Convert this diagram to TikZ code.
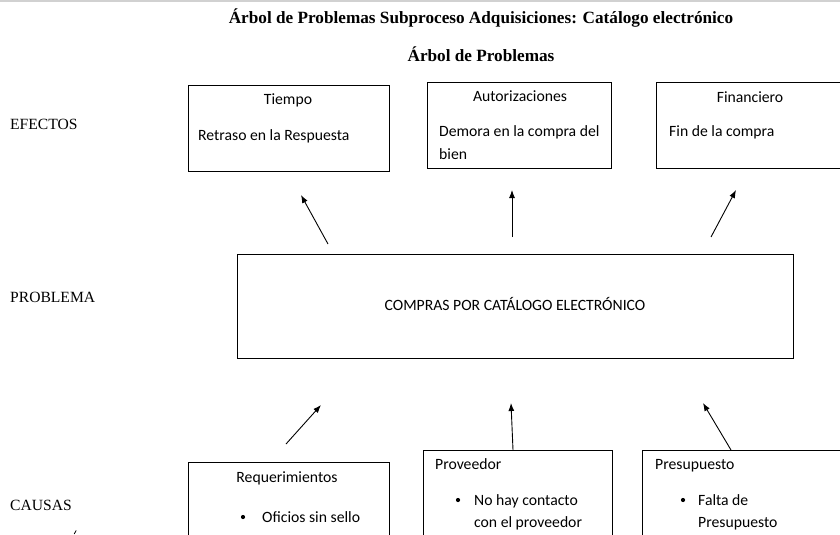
\documentclass[tikz,border=0pt]{standalone}
\usepackage{fontspec}
\setmainfont{Liberation Serif}
\newfontfamily\bodyfont{Carlito}
\usetikzlibrary{arrows.meta}

\begin{document}
\begin{tikzpicture}[x=1pt,y=-1pt,
  framebox/.style={draw=black,line width=0.9pt,rectangle,inner sep=0pt,anchor=north west},
  boxtext/.style={font=\bodyfont\fontsize{15.7}{18}\selectfont,inner sep=0pt,anchor=base west},
  boxhead/.style={font=\bodyfont\fontsize{15.7}{18}\selectfont,inner sep=0pt,anchor=base},
  sidelabel/.style={font=\fontsize{15.6}{18}\selectfont,inner sep=0pt,anchor=base west},
  titletext/.style={font=\bfseries\fontsize{17.2}{20}\selectfont,inner sep=0pt,anchor=base},
  uparrow/.style={draw=black,line width=0.9pt,-{Latex[length=8pt,width=6pt]}},
  bulletdot/.style={circle,fill=black,inner sep=0pt,minimum size=4.2pt}]

\useasboundingbox (0,0) rectangle (840,535);
\clip (0,0) rectangle (840,535);
\fill[white] (0,0) rectangle (840,535);
\fill[black!18] (0,0) rectangle (840,2);

% Headings
\node[titletext] (title) at (481,24) {Árbol de Problemas Subproceso Adquisiciones: Catálogo electrónico};
\node[titletext] (subtitle) at (481,61) {Árbol de Problemas};

% Row labels
\node[sidelabel] (lefectos) at (10,129) {EFECTOS};
\node[sidelabel] (lproblema) at (10,302) {PROBLEMA};
\node[sidelabel] (lcausas) at (10,510) {CAUSAS};
% accent stroke of the next label, which runs off the page
\draw[line width=0.8pt] (74.2,534) -- (76.2,530.5);

% Effects
\node[framebox,minimum width=201pt,minimum height=86pt] (tiempo) at (188,85) {};
\node[boxhead] (tiempoh) at (288,104) {Tiempo};
\node[boxtext] (tiempot) at (198,140) {Retraso en la Respuesta};

\node[framebox,minimum width=184pt,minimum height=86pt] (autor) at (427,82) {};
\node[boxhead] (autorh) at (520,101) {Autorizaciones};
\node[boxtext] (autort1) at (439,136) {Demora en la compra del};
\node[boxtext] (autort2) at (439,159) {bien};

\node[framebox,minimum width=184pt,minimum height=86pt] (finan) at (656,82) {};
\node[boxhead] (finanh) at (750,102) {Financiero};
\node[boxtext] (finant) at (669,136) {Fin de la compra};

% Central problem
\node[framebox,minimum width=556pt,minimum height=104pt] (problema) at (237,254) {};
\node[boxhead] (problemat) at (515,310) {COMPRAS POR CATÁLOGO ELECTRÓNICO};

% Causes
\node[framebox,minimum width=201pt,minimum height=90pt] (requer) at (188,462) {};
\node[boxhead] (requerh) at (287,482) {Requerimientos};
\node[bulletdot] (requerb) at (243,517) {};
\node[boxtext] (requert) at (262,522) {Oficios sin sello};

\node[framebox,minimum width=189pt,minimum height=100pt] (prov) at (423,450) {};
\node[boxtext] (provh) at (435,469) {Proveedor};
\node[bulletdot] (provb) at (458,500) {};
\node[boxtext] (provt1) at (474,505) {No hay contacto};
\node[boxtext] (provt2) at (474,527) {con el proveedor};

\node[framebox,minimum width=220pt,minimum height=100pt] (presu) at (642,450) {};
\node[boxtext] (presuh) at (655,469) {Presupuesto};
\node[bulletdot] (presub) at (683,500) {};
\node[boxtext] (presut1) at (698,505) {Falta de};
\node[boxtext] (presut2) at (698,527) {Presupuesto};

% Arrow end points
\coordinate (e1s) at (328,244); \coordinate (e1e) at (301,195);
\coordinate (e2s) at (512,237); \coordinate (e2e) at (512,190);
\coordinate (e3s) at (711,237); \coordinate (e3e) at (736,190);
\coordinate (c1s) at (286,444); \coordinate (c1e) at (321,405);
\coordinate (c2s) at (513,450); \coordinate (c2e) at (511,403);
\coordinate (c3s) at (731,450); \coordinate (c3e) at (703,403);

\draw[uparrow] (e1s) -- (e1e);
\draw[uparrow] (e2s) -- (e2e);
\draw[uparrow] (e3s) -- (e3e);
\draw[uparrow] (c1s) -- (c1e);
\draw[uparrow] (c2s) -- (c2e);
\draw[uparrow] (c3s) -- (c3e);
\end{tikzpicture}
\end{document}
